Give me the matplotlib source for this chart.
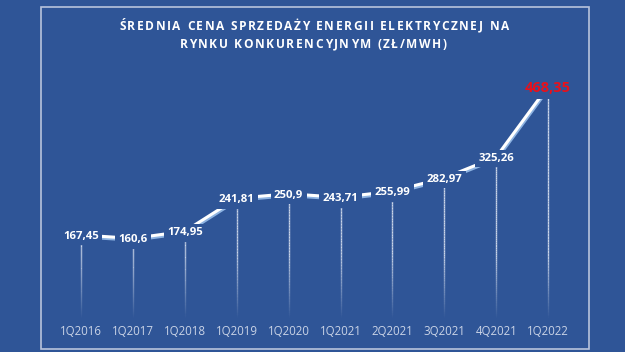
import numpy as np
import matplotlib
matplotlib.use("Agg")
import matplotlib.pyplot as plt
import matplotlib.transforms as mtransforms
from matplotlib.collections import LineCollection
from matplotlib.patches import Rectangle

categories = ['1Q2016', '1Q2017', '1Q2018', '1Q2019', '1Q2020',
              '1Q2021', '2Q2021', '3Q2021', '4Q2021', '1Q2022']
values = [167.45, 160.6, 174.95, 241.81, 250.9, 243.71, 255.99, 282.97, 325.26, 468.35]
value_labels = ['167,45', '160,6', '174,95', '241,81', '250,9', '243,71',
                '255,99', '282,97', '325,26', '468,35']
title_lines = ['ŚREDNIA CENA SPRZEDAŻY ENERGII ELEKTRYCZNEJ NA',
               'RYNKU KONKURENCYJNYM (ZŁ/MWH)']

BG = '#2F5597'
W, H, DPI = 6.25, 3.52, 100

fig = plt.figure(figsize=(W, H), dpi=DPI, facecolor=BG)
ax = fig.add_axes([0.0881, 0.0974, 0.8304, 0.7017])
ax.set_facecolor('none')
ax.set_xlim(-0.5, len(categories) - 0.5)
ax.set_ylim(0, 500)
for s in ax.spines.values():
    s.set_visible(False)
ax.set_yticks([])
x = np.arange(len(categories))
ax.set_xticks(x)
ax.set_xticklabels(categories, fontsize=8.3, color='#C9D3E6', family='Open Sans')
ax.tick_params(axis='x', length=0, pad=5)

# frame
fig.patches.append(Rectangle((41 / 625, 3 / 352), (589 - 41) / 625, (349 - 7) / 352,
                             transform=fig.transFigure, fill=False,
                             edgecolor='#B8C4DC', linewidth=1.2))

# fading drop lines
segs, cols = [], []
for xi, v in zip(x, values):
    ys = np.linspace(0, v, 80)
    for a, b in zip(ys[:-1], ys[1:]):
        segs.append([(xi, a), (xi, b)])
        alpha = min(1.0, ((a + b) / 2) / 130.0) * 0.9
        cols.append((0.86, 0.89, 0.95, alpha))
ax.add_collection(LineCollection(segs, colors=cols, linewidths=1.0, zorder=2))

# ribbon line
shadow = mtransforms.offset_copy(ax.transData, fig=fig, x=0.6, y=-1.6, units='dots')
ax.plot(x, values, color='#8DB3E2', lw=2.6, transform=shadow, zorder=3,
        solid_capstyle='butt')
ax.plot(x, values, color='white', lw=2.2, zorder=4, solid_capstyle='butt')

for xi, v, lab in zip(x, values, value_labels):
    last = lab == value_labels[-1]
    ax.text(xi, v, lab, ha='center', va='center_baseline',
            fontsize=10.5 if last else 8.2, fontweight='bold',
            color='#E8111B' if last else 'white', family='Open Sans',
            bbox=dict(boxstyle='square,pad=0.3', fc=BG, ec='none'), zorder=6)

# title with letter spacing
fig.canvas.draw()
r = fig.canvas.get_renderer()
tkw = dict(size=8.6, weight='bold', color='white', family='Open Sans')


def w_of(s):
    t = fig.text(0, 0, s, **tkw)
    w = t.get_window_extent(r).width
    t.remove()
    return w


def offsets(s):
    base = w_of('H')
    return [w_of(s[:i] + 'H') - base if i else 0.0 for i in range(len(s))], w_of(s)


def spaced(s, xc, y, target=None, track=None):
    offs, natural = offsets(s)
    if track is None:
        track = (target - natural) / (len(s) - 1)
    total = natural + track * (len(s) - 1)
    x0 = xc - total / 2
    for i, c in enumerate(s):
        if c == ' ':
            continue
        fig.text((x0 + offs[i] + track * i) / (W * DPI), 1 - y / (H * DPI), c,
                 ha='left', va='center', **tkw)
    return track


tr = spaced(title_lines[0], 314, 26, target=390)
spaced(title_lines[1], 313, 44, track=tr)

fig.savefig('out.png', dpi=DPI, facecolor=BG)
